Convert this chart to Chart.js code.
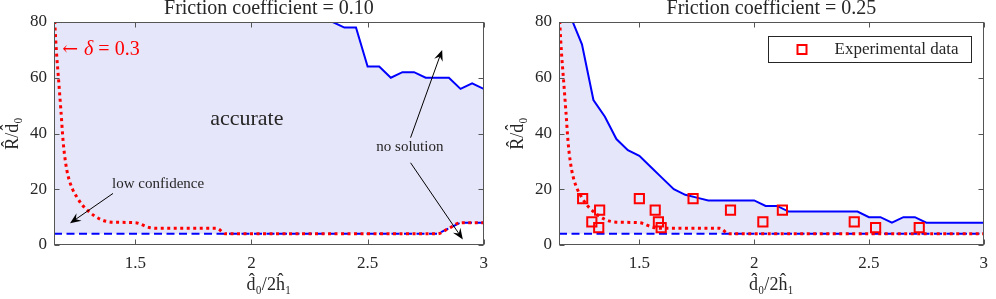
<!DOCTYPE html>
<html>
<head>
<meta charset="utf-8">
<script src="https://cdn.jsdelivr.net/npm/chart.js@4.4.0/dist/chart.umd.min.js"></script>
<style>
body{margin:0;background:#fff;width:996px;height:299px;overflow:hidden;position:relative}
canvas{position:absolute;top:0}
#left{left:0}
#right{left:505px}
</style>
</head>
<body>
<canvas id="left" width="496" height="299"></canvas>
<canvas id="right" width="491" height="299"></canvas>
<script>
// values
var titles = ['Friction coefficient = 0.10', 'Friction coefficient = 0.25'];
var xTicks = [1.5, 2, 2.5, 3];
var yTicks = [0, 20, 40, 60, 80];

// friction 0.10
var upper1X = [1.15, 2.2, 2.25, 2.3, 2.35, 2.4, 2.45, 2.5, 2.55, 2.6, 2.65, 2.7, 2.75, 2.8, 2.85, 2.9, 2.95, 3.0];
var upper1Y = [100, 82, 80, 82, 80, 78, 78, 64, 64, 60, 62, 62, 60, 60, 60, 56, 58, 56];
var lower1X = [1.15, 2.8, 2.85, 2.9, 3.0];
var lower1Y = [4, 4, 6, 8, 8];
var delta1X = [1.15, 1.16, 1.17, 1.18, 1.19, 1.2, 1.21, 1.23, 1.25, 1.27, 1.3, 1.35, 1.4, 1.5, 1.56, 1.6, 1.85, 1.89, 2.8, 2.85, 2.9, 3.0];
var delta1Y = [85, 70, 59, 48, 36.5, 29.5, 25, 20, 17, 14.5, 12, 9.2, 8.2, 8, 6.3, 6, 6, 4, 4, 6, 8, 8];

// friction 0.25
var upper2X = [1.15, 1.2, 1.25, 1.3, 1.35, 1.4, 1.45, 1.5, 1.55, 1.6, 1.65, 1.7, 1.75, 1.8, 2.0, 2.05, 2.1, 2.15, 2.45, 2.5, 2.55, 2.6, 2.65, 2.7, 2.75, 3.0];
var upper2Y = [100, 82, 72, 52, 46, 38, 34, 32, 28, 24, 20, 18, 17, 16, 16, 14, 14, 12, 12, 10, 10, 8, 10, 10, 8, 8];
var lower2X = [1.15, 3.0];
var lower2Y = [4, 4];
var delta2X = [1.15, 1.16, 1.17, 1.18, 1.19, 1.2, 1.21, 1.23, 1.25, 1.27, 1.3, 1.35, 1.4, 1.5, 1.56, 1.6, 1.85, 1.89, 3.0];
var delta2Y = [85, 70, 59, 48, 36.5, 29.5, 25, 20, 17, 14.5, 12, 9.2, 8.2, 8, 6.3, 6, 6, 4, 4];
var expX = [1.253, 1.293, 1.327, 1.323, 1.5, 1.569, 1.583, 1.595, 1.734, 1.897, 2.038, 2.123, 2.436, 2.529, 2.719];
var expY = [16.67, 8.33, 12.5, 6.25, 16.67, 12.5, 8.33, 6.25, 16.67, 12.5, 8.33, 12.5, 8.33, 6.25, 6.25];

var TXT = '#262626';
var SERIF = '"Liberation Serif", "Times New Roman", serif';
Chart.defaults.font.family = SERIF;
Chart.defaults.color = TXT;

function pts(xs, ys) {
    var out = [];
    for (var i = 0; i < xs.length; i++) out.push({x: xs[i], y: ys[i]});
    return out;
}

function arrow(ctx, x1, y1, x2, y2) {
    var a = Math.atan2(y2 - y1, x2 - x1), c = Math.cos(a), s = Math.sin(a);
    var L = 11, W = 4.5;
    ctx.beginPath();
    ctx.moveTo(x1, y1);
    ctx.lineTo(x2 - c * L * 0.6, y2 - s * L * 0.6);
    ctx.stroke();
    ctx.beginPath();
    ctx.moveTo(x2, y2);
    ctx.lineTo(x2 - L * c + W * s, y2 - L * s - W * c);
    ctx.lineTo(x2 - 0.65 * L * c, y2 - 0.65 * L * s);
    ctx.lineTo(x2 - L * c - W * s, y2 - L * s + W * c);
    ctx.closePath();
    ctx.fill();
}

// box + inward ticks + title, like the matlab axes
function frameFor(title, extra) {
    return {
        id: 'frame',
        afterDatasetsDraw: function(chart) {
            var ctx = chart.ctx, ca = chart.chartArea;
            var xs = chart.scales.x, ys = chart.scales.y;
            var P = function(v, sc) { return sc.getPixelForValue(v); };
            ctx.save();
            if (extra) extra(ctx, chart, function(v) { return P(v, xs); }, function(v) { return P(v, ys); });
            ctx.strokeStyle = '#555';
            ctx.lineWidth = 1;
            var l = Math.round(ca.left) + 0.5, r = Math.round(ca.right) - 0.5;
            var t = Math.round(ca.top) + 0.5, b = Math.round(ca.bottom) - 0.5;
            ctx.strokeRect(l, t, r - l, b - t);
            ctx.beginPath();
            xTicks.forEach(function(v) {
                var px = Math.round(P(v, xs)) + 0.5;
                ctx.moveTo(px, b); ctx.lineTo(px, b - 5);
                ctx.moveTo(px, t); ctx.lineTo(px, t + 5);
            });
            yTicks.forEach(function(v) {
                var py = Math.round(P(v, ys)) + 0.5;
                ctx.moveTo(l, py); ctx.lineTo(l + 5, py);
                ctx.moveTo(r, py); ctx.lineTo(r - 5, py);
            });
            ctx.stroke();
            ctx.fillStyle = TXT;
            ctx.font = '20px ' + SERIF;
            ctx.textAlign = 'center';
            ctx.textBaseline = 'middle';
            ctx.fillText(title, (ca.left + ca.right) / 2, 9);
            ctx.restore();
        }
    };
}

function baseOptions(padRight) {
    return {
        responsive: false,
        animation: false,
        layout: {padding: {left: 0, right: padRight, top: 22, bottom: 0}},
        plugins: {legend: {display: false}, tooltip: {enabled: false}},
        elements: {point: {radius: 0}, line: {tension: 0}},
        scales: {
            x: {
                type: 'linear', min: 1.15, max: 3,
                afterBuildTicks: function(s) { s.ticks = xTicks.map(function(v) { return {value: v}; }); },
                afterFit: function(s) { s.height = 54; },
                grid: {display: false, drawTicks: false},
                border: {display: false},
                ticks: {padding: 8, font: {family: SERIF, size: 17}, color: TXT, callback: function(v) { return String(v); }},
                title: {display: true, text: 'd\u0302\u2080/2h\u0302\u2081', font: {family: SERIF, size: 18}, color: TXT, padding: {top: 0, bottom: 3}}
            },
            y: {
                min: 0, max: 80,
                afterBuildTicks: function(s) { s.ticks = yTicks.map(function(v) { return {value: v}; }); },
                afterFit: function(s) { s.width = 54; },
                grid: {display: false, drawTicks: false},
                border: {display: false},
                ticks: {padding: 7, font: {family: SERIF, size: 17}, color: TXT},
                title: {display: true, text: 'R\u0302/d\u0302\u2080', font: {family: SERIF, size: 18}, color: TXT, padding: {top: 2, bottom: 0}}
            }
        }
    };
}

var redLine = {borderColor: '#ff0000', borderWidth: 3, borderDash: [3, 3.5], borderCapStyle: 'butt', cubicInterpolationMode: 'monotone', fill: false};
var dashBlue = {borderColor: '#0000ff', borderWidth: 2, borderDash: [8, 4.5], fill: false};
var solidBlue = {borderColor: '#0000ff', borderWidth: 2, backgroundColor: '#e6e6fa', fill: '-1'};

new Chart(document.getElementById('left'), {
    type: 'line',
    data: {
        datasets: [
            Object.assign({label: 'delta 0.3', data: pts(delta1X, delta1Y)}, redLine),
            Object.assign({label: 'lower', data: pts(lower1X, lower1Y)}, dashBlue),
            Object.assign({label: 'upper', data: pts(upper1X, upper1Y)}, solidBlue)
        ]
    },
    options: baseOptions(11),
    plugins: [frameFor(titles[0], function(ctx, chart, X, Y) {
        ctx.fillStyle = TXT;
        ctx.strokeStyle = '#000';
        ctx.lineWidth = 1;
        ctx.textBaseline = 'middle';
        ctx.textAlign = 'center';
        ctx.font = '22px ' + SERIF;
        ctx.fillText('accurate', X(1.98), Y(45));
        ctx.font = '15px ' + SERIF;
        ctx.textAlign = 'left';
        ctx.fillText('low confidence', X(1.40), Y(22));
        ctx.textAlign = 'center';
        ctx.fillText('no solution', X(2.682), Y(35));
        ctx.fillStyle = '#000';
        arrow(ctx, X(1.404), Y(18.5), X(1.219), Y(7.8));
        arrow(ctx, X(2.685), Y(38.5), X(2.821), Y(70));
        arrow(ctx, X(2.685), Y(29.5), X(2.91), Y(2));
        // delta label
        ctx.fillStyle = '#ff0000';
        ctx.textAlign = 'left';
        var x0 = X(1.185), y0 = Y(70);
        ctx.font = '19px "DejaVu Serif", serif';
        ctx.fillText('\u2190', x0, y0);
        x0 += ctx.measureText('\u2190').width + 6;
        ctx.font = 'italic 20px ' + SERIF;
        ctx.fillText('\u03b4', x0, y0);
        x0 += ctx.measureText('\u03b4').width;
        ctx.font = '20px ' + SERIF;
        ctx.fillText(' = 0.3', x0, y0);
    })]
});

new Chart(document.getElementById('right'), {
    type: 'line',
    data: {
        datasets: [
            {label: 'Experimental data', data: pts(expX, expY), showLine: false, pointStyle: 'rect',
             pointRadius: 6.5, pointBorderWidth: 2, pointBorderColor: '#ff0000', pointBackgroundColor: 'rgba(0,0,0,0)'},
            Object.assign({label: 'delta 0.3', data: pts(delta2X, delta2Y)}, redLine),
            Object.assign({label: 'lower', data: pts(lower2X, lower2Y)}, dashBlue),
            Object.assign({label: 'upper', data: pts(upper2X, upper2Y)}, solidBlue)
        ]
    },
    options: baseOptions(7),
    plugins: [frameFor(titles[1], function(ctx, chart) {
        // legend box
        var ca = chart.chartArea;
        var bw = 203, bh = 26;
        var bx = Math.round(ca.right - 13 - bw) + 0.5, by = Math.round(ca.top + 14) + 0.5;
        ctx.fillStyle = '#fff';
        ctx.fillRect(bx, by, bw, bh);
        ctx.strokeStyle = '#262626';
        ctx.lineWidth = 1;
        ctx.strokeRect(bx, by, bw, bh);
        ctx.strokeStyle = '#ff0000';
        ctx.lineWidth = 2;
        ctx.strokeRect(bx + 29, by + bh / 2 - 4.5, 9, 9);
        ctx.fillStyle = TXT;
        ctx.font = '17px ' + SERIF;
        ctx.textAlign = 'left';
        ctx.textBaseline = 'middle';
        ctx.fillText('Experimental data', bx + 66, by + bh / 2);
    })]
});
</script>
</body>
</html>
